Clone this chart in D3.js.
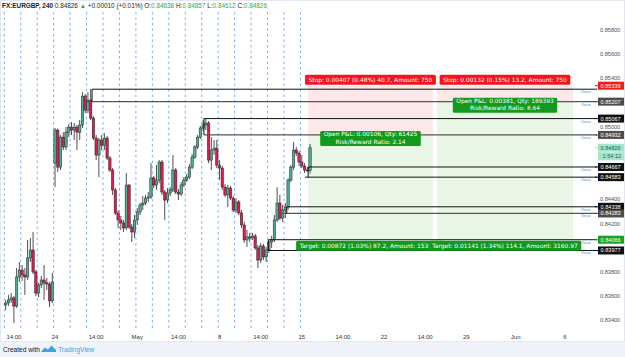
<!DOCTYPE html>
<html>
<head>
<meta charset="utf-8">
<script src="https://cdn.jsdelivr.net/npm/d3@7"></script>
<style>
  html, body { margin: 0; padding: 0; background: #fff; }
  svg { display: block; font-family: "Liberation Sans", Arial, sans-serif; }
</style>
</head>
<body>
<svg id="chart" width="625" height="357"></svg>
<script>
// EURGBP 4h candles, 19 Apr - 15 May (6 bars a day, weekdays only)
const opens = [
  0.83527,0.83543,0.83568,0.83585,0.83518,0.83758, 0.83816,0.83775,0.83758,0.83915,0.83981,0.83799,
  0.83626,0.83692,0.83733,0.83709,0.83700,0.83560, 0.84699,0.84972,0.84666,0.84914,0.84832,0.84955,
  0.84997,0.84972,0.84997,0.84955,0.85014,0.85253, 0.85137,0.85220,0.85071,0.84906,0.84766,0.84890,
  0.84848,0.84906,0.84741,0.84642,0.84477,0.84287, 0.84229,0.84204,0.84163,0.84518,0.84171,0.84130,
  0.84229,0.84295,0.84353,0.84369,0.84410,0.84419, 0.84576,0.84518,0.84559,0.84708,0.84460,0.84394,
  0.84452,0.84477,0.84642,0.84460,0.84443,0.84518, 0.84559,0.84584,0.84666,0.84749,0.84832,0.84914,
  0.84989,0.85014,0.85030,0.84724,0.84807,0.84823, 0.84683,0.84658,0.84501,0.84436,0.84493,0.84410,
  0.84311,0.84378,0.84287,0.84188,0.84064,0.84089, 0.84081,0.84097,0.83998,0.83898,0.84014,0.83923,
  0.83981,0.84047,0.84064,0.84229,0.84369,0.84245, 0.84311,0.84336,0.84559,0.84666,0.84807,0.84782,
  0.84708,0.84675,0.84642,0.84638
];
const highs = [
  0.83568,0.83610,0.83626,0.83601,0.83832,0.83882, 0.83857,0.83832,0.84064,0.84081,0.84130,0.83816,
  0.83709,0.83766,0.83857,0.83750,0.83717,0.83791, 0.84989,0.84985,0.84931,0.84955,0.84997,0.85022,
  0.85038,0.85030,0.85014,0.85055,0.85286,0.85270, 0.85286,0.85311,0.85088,0.84931,0.84906,0.84931,
  0.84947,0.84923,0.84757,0.84658,0.84493,0.84311, 0.84262,0.84229,0.84617,0.84526,0.84196,0.84270,
  0.84328,0.84369,0.84427,0.84436,0.84460,0.84699, 0.84592,0.84683,0.84724,0.84724,0.84477,0.84493,
  0.84501,0.84766,0.84658,0.84485,0.84543,0.84584, 0.84609,0.84691,0.84774,0.84848,0.84931,0.85005,
  0.85055,0.85067,0.85047,0.84914,0.84890,0.84890, 0.84724,0.84675,0.84526,0.84518,0.84510,0.84427,
  0.84410,0.84394,0.84311,0.84213,0.84146,0.84122, 0.84122,0.84114,0.84023,0.84039,0.84031,0.84006,
  0.84064,0.84097,0.84270,0.84501,0.84436,0.84353, 0.84369,0.84576,0.84683,0.84873,0.84832,0.84798,
  0.84766,0.84699,0.84666,0.84857
];
const lows = [
  0.83485,0.83518,0.83543,0.83378,0.83502,0.83717, 0.83725,0.83610,0.83733,0.83882,0.83783,0.83601,
  0.83593,0.83667,0.83568,0.83651,0.83510,0.83543, 0.84501,0.84626,0.84642,0.84807,0.84807,0.84914,
  0.84931,0.84890,0.84807,0.84890,0.84989,0.85112, 0.85112,0.85055,0.84890,0.84724,0.84584,0.84807,
  0.84807,0.84724,0.84626,0.84436,0.84270,0.84163, 0.84146,0.84130,0.84146,0.84155,0.84047,0.84081,
  0.84188,0.84270,0.84311,0.84353,0.84378,0.84402, 0.84493,0.84477,0.84534,0.84436,0.84229,0.84369,
  0.84427,0.84460,0.84443,0.84394,0.84427,0.84501, 0.84543,0.84567,0.84650,0.84733,0.84815,0.84898,
  0.84964,0.84972,0.84699,0.84642,0.84766,0.84658, 0.84559,0.84477,0.84419,0.84336,0.84394,0.84295,
  0.84287,0.84270,0.84163,0.84039,0.84006,0.84047, 0.84064,0.83981,0.83832,0.83874,0.83898,0.83882,
  0.83957,0.83998,0.84047,0.84213,0.84229,0.84213, 0.84245,0.84311,0.84543,0.84642,0.84757,0.84675,
  0.84658,0.84617,0.84626,0.84612
];
const closes = [
  0.83543,0.83568,0.83585,0.83518,0.83758,0.83816, 0.83775,0.83758,0.83915,0.83981,0.83799,0.83626,
  0.83692,0.83733,0.83709,0.83700,0.83560,0.83717, 0.84972,0.84666,0.84914,0.84832,0.84955,0.84997,
  0.84972,0.84997,0.84955,0.85014,0.85253,0.85137, 0.85220,0.85071,0.84906,0.84766,0.84890,0.84848,
  0.84906,0.84741,0.84642,0.84477,0.84287,0.84229, 0.84204,0.84163,0.84518,0.84171,0.84130,0.84229,
  0.84295,0.84353,0.84369,0.84410,0.84419,0.84576, 0.84518,0.84559,0.84708,0.84460,0.84394,0.84452,
  0.84477,0.84642,0.84460,0.84443,0.84518,0.84559, 0.84584,0.84666,0.84749,0.84832,0.84914,0.84989,
  0.85014,0.85030,0.84724,0.84807,0.84823,0.84683, 0.84658,0.84501,0.84436,0.84493,0.84410,0.84311,
  0.84378,0.84287,0.84188,0.84064,0.84089,0.84081, 0.84097,0.83998,0.83898,0.84014,0.83923,0.83981,
  0.84047,0.84064,0.84229,0.84369,0.84245,0.84311, 0.84336,0.84559,0.84666,0.84807,0.84782,0.84708,
  0.84675,0.84642,0.84638,0.84826
];

// time axis (positions in bar index)
const timeTickBars = [3.5, 18.5, 33.5, 48.5, 63.5, 78.5, 93.5, 108.5, 123.5, 138.5, 153.5, 168.5, 186.5, 204.5];
const timeTickLabels = ["14:00", "24", "14:00", "May", "14:00", "8", "14:00", "15", "14:00", "22", "14:00", "29", "Jun", "6"];
const barsPerDay = 6;
const dayCount = 19;

const priceTicks = [0.834, 0.836, 0.838, 0.840, 0.842, 0.844, 0.846, 0.848, 0.850, 0.852, 0.854, 0.856, 0.858];

// horizontal rays drawn on the chart
const rayPrices = [0.85310, 0.85207, 0.85067, 0.84932, 0.84667, 0.84583, 0.84338, 0.84283, 0.84066, 0.83977];
const rayStartBars = [32.0, 30.2, 72.8, 72.8, 110.8, 109.7, 103.0, 101.2, 96.3, 96.3];
const rayGray = [false, true, false, true, false, false, false, true, false, false];

// price tags on the right scale
const tagPrices = [0.85339, 0.85207, 0.85067, 0.84932, 0.84826, 0.84667, 0.84583, 0.84338, 0.84283, 0.84066, 0.83977];
const tagKinds = ["stop", "gray", "black", "gray", "last", "black", "black", "black", "gray", "target", "black"];

// short position tools
const posEntry = [0.84932, 0.85207];
const posStop = [0.85339, 0.85339];
const posTarget = [0.84066, 0.84066];
const posStartBar = [110.8, 157.8];
const posEndBar = [156.3, 207.4];
const posStopText = ["Stop: 0.00407 (0.48%) 40.7, Amount: 750", "Stop: 0.00132 (0.15%) 13.2, Amount: 750"];
const posPnlText = ["Open P&L: 0.00106, Qty: 61425", "Open P&L: 0.00381, Qty: 189393"];
const posRatioText = ["Risk/Reward Ratio: 2.14", "Risk/Reward Ratio: 8.64"];
const posTargetText = ["Target: 0.00872 (1.03%) 87.2, Amount: 1535.34", "Target: 0.01141 (1.34%) 114.1, Amount: 3160.97"];

const W = 625, H = 357;
const plotLeft = 0, plotRight = 597, plotTop = 12, plotBottom = 330;

const svg = d3.select("#chart");

const x = d3.scaleLinear().domain([0, 213]).range([4.3, 4.3 + 213 * 2.742]);
const y = d3.scaleLinear().domain([0.834, 0.858]).range([320.3, 29.9]);

svg.append("rect").attr("width", W).attr("height", H).attr("fill", "#fff");

svg.append("defs").append("clipPath").attr("id", "plotclip")
  .append("rect").attr("x", plotLeft).attr("y", plotTop)
  .attr("width", plotRight - plotLeft).attr("height", plotBottom - plotTop);

const plot = svg.append("g").attr("clip-path", "url(#plotclip)");

// position zones
posEntry.forEach((e, i) => {
  const x0 = x(posStartBar[i]), x1 = x(posEndBar[i]);
  plot.append("rect").attr("x", x0).attr("width", x1 - x0)
    .attr("y", y(posStop[i])).attr("height", y(e) - y(posStop[i]))
    .attr("fill", "#fde9ea");
  plot.append("rect").attr("x", x0).attr("width", x1 - x0)
    .attr("y", y(e)).attr("height", y(posTarget[i]) - y(e))
    .attr("fill", "#e9f6e6");
});

// day separators
plot.selectAll(".day").data(d3.range(dayCount)).join("line")
  .attr("x1", d => x(d * barsPerDay)).attr("x2", d => x(d * barsPerDay))
  .attr("y1", plotTop).attr("y2", plotBottom)
  .attr("stroke", "#5b9cf0").attr("stroke-width", 0.8)
  .attr("stroke-dasharray", "2.5,3");

// candles
const bars = d3.range(closes.length);
const upCol = "#4caf8f", downCol = "#e8174f";
const cg = plot.append("g");
cg.selectAll("line").data(bars).join("line")
  .attr("x1", i => x(i + 0.5)).attr("x2", i => x(i + 0.5))
  .attr("y1", i => y(highs[i])).attr("y2", i => y(lows[i]))
  .attr("stroke", "#222").attr("stroke-width", 0.8);
cg.selectAll("rect").data(bars).join("rect")
  .attr("x", i => x(i + 0.5) - 1.2).attr("width", 2.4)
  .attr("y", i => y(Math.max(opens[i], closes[i])))
  .attr("height", i => Math.max(0.8, Math.abs(y(opens[i]) - y(closes[i]))))
  .attr("fill", i => closes[i] >= opens[i] ? upCol : downCol)
  .attr("stroke", "#222").attr("stroke-width", 0.5);

// rays + connectors
rayPrices.forEach((p, i) => {
  plot.append("line")
    .attr("x1", x(rayStartBars[i])).attr("x2", plotRight)
    .attr("y1", y(p)).attr("y2", y(p))
    .attr("stroke", rayGray[i] ? "#555" : "#111")
    .attr("stroke-width", rayGray[i] ? 1.3 : 1);
  svg.append("text").attr("x", 581).attr("y", y(p) + 4)
    .attr("font-size", 3.6).attr("fill", "#3d7be0").text("Oscar");
});
for (let i = 0; i < rayPrices.length; i += 2) {
  const bx = x(Math.max(rayStartBars[i], rayStartBars[i + 1]));
  plot.append("line").attr("x1", bx).attr("x2", bx)
    .attr("y1", y(rayPrices[i])).attr("y2", y(rayPrices[i + 1]))
    .attr("stroke", "#111").attr("stroke-width", 1);
}

// labels of the position tools
function boxLabel(parent, lines, cx, top, bg, fs, h) {
  const g = parent.append("g");
  const r = g.append("rect").attr("fill", bg).attr("rx", 1.5);
  const ts = lines.map((t, k) => g.append("text")
    .attr("x", cx).attr("y", top + (k + 1) * (h / lines.length) - 2.3)
    .attr("text-anchor", "middle").attr("font-size", fs)
    .attr("fill", "#fff").text(t));
  const w = d3.max(ts, t => t.node().getComputedTextLength()) + 7;
  r.attr("x", cx - w / 2).attr("y", top).attr("width", w).attr("height", h);
  return g;
}
const lab = svg.append("g").attr("font-family", "DejaVu Sans");
posEntry.forEach((e, i) => {
  const cx = x((posStartBar[i] + posEndBar[i]) / 2);
  boxLabel(lab, [posStopText[i]], cx, y(posStop[i]) - 11, "#f5141e", 5.9, 10);
  boxLabel(lab, [posPnlText[i], posRatioText[i]], cx, y(e) - 4, "#119a1d", 5.9, 15);
});
posEntry.forEach((e, i) => {
  const cx = x((posStartBar[i] + posEndBar[i]) / 2);
  boxLabel(lab, [posTargetText[i]], cx, y(posTarget[i]) + 1, "#119a1d", 5.9, 10);
});

// price axis
const tagY = tagPrices.map(p => y(p));
svg.append("g").selectAll("text").data(priceTicks.filter(p =>
    y(p) > plotTop + 4 && y(p) < plotBottom && d3.min(tagY, ty => Math.abs(ty - y(p))) > 6.5))
  .join("text")
  .attr("x", 600).attr("y", d => y(d) + 2)
  .attr("font-size", 5.6).attr("fill", "#4a4f5a")
  .text(d => d.toFixed(5));

const tagStyle = {
  stop: ["#f41b1b", "#fff"], gray: ["#4e4e4e", "#fff"], black: ["#111", "#fff"],
  last: ["#a6e3cb", "#1c6b48"], target: ["#16a21f", "#fff"]
};
tagPrices.forEach((p, i) => {
  const [bg, fg] = tagStyle[tagKinds[i]];
  const ty = y(p);
  svg.append("line").attr("x1", 595).attr("x2", 599).attr("y1", ty).attr("y2", ty).attr("stroke", bg);
  svg.append("rect").attr("x", 598).attr("y", ty - 4).attr("width", 27).attr("height", 8).attr("fill", bg);
  svg.append("text").attr("x", 600.5).attr("y", ty + 2).attr("font-size", 5.6).attr("fill", fg).text(p.toFixed(5));
  if (tagKinds[i] === "last") {
    svg.append("rect").attr("x", 598).attr("y", ty + 4.5).attr("width", 27).attr("height", 8).attr("fill", bg);
    svg.append("text").attr("x", 602.5).attr("y", ty + 10.5).attr("font-size", 5.6).attr("fill", fg).text("1:54:12");
  }
});

// time axis
svg.append("g").selectAll("text").data(timeTickBars).join("text")
  .attr("x", d => x(d)).attr("y", 339)
  .attr("text-anchor", "middle").attr("font-size", 6).attr("fill", "#333")
  .text((d, i) => timeTickLabels[i]);

// header
const hdr = svg.append("text").attr("x", 2).attr("y", 8).attr("font-size", 6.4).attr("fill", "#222");
hdr.append("tspan").attr("font-weight", "bold").text("FX:EURGBP, 240 ");
hdr.append("tspan").text(" 0.84826 ");
hdr.append("tspan").attr("fill", "#2eaa52").text("▲");
hdr.append("tspan").text(" +0.00010 (+0.01%) ");
[["O:", "0.84638"], ["H:", "0.84857"], ["L:", "0.84612"], ["C:", "0.84826"]].forEach(([k, v]) => {
  hdr.append("tspan").text(" " + k);
  hdr.append("tspan").attr("fill", "#2eaa52").text(v);
});

// footer
svg.append("rect").attr("x", 0).attr("y", 342).attr("width", W).attr("height", H - 342).attr("fill", "#f0f3fa");
svg.append("text").attr("x", 3).attr("y", 352).attr("font-size", 6.6).attr("fill", "#131722").text("Created with");
svg.append("path")
  .attr("d", "M41,352 L44.5,347.5 L48,349.5 L51.5,345.5 L56,350 L56,352 Z")
  .attr("fill", "#3aa5e0");
svg.append("text").attr("x", 58).attr("y", 352).attr("font-size", 6.6).attr("fill", "#3aa5e0").text("TradingView");

// frame
svg.append("rect").attr("x", 0.5).attr("y", 0.5).attr("width", W - 1).attr("height", 341)
  .attr("fill", "none").attr("stroke", "#e3e8f0");
</script>
</body>
</html>
